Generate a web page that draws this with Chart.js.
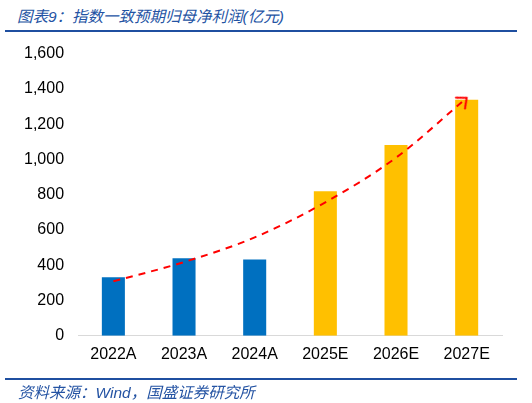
<!DOCTYPE html>
<html lang="zh">
<head>
  <meta charset="UTF-8">
  <title>图表9 指数一致预期归母净利润</title>
  <script src="https://cdn.jsdelivr.net/npm/chart.js"></script>
  <style>
    html, body {
      margin: 0;
      padding: 0;
      background: #ffffff;
      width: 532px;
      height: 403px;
      overflow: hidden;
      font-family: "Liberation Sans", Arial, "Noto Sans CJK SC", sans-serif;
    }
    .title {
      position: absolute;
      left: 17px;
      top: 4px;
      font-size: 15.5px;
      font-style: italic;
      color: #2453a3;
      font-family: "Liberation Sans", "Noto Sans CJK SC", sans-serif;
      white-space: nowrap;
    }
    .rule {
      position: absolute;
      left: 5px;
      width: 512px;
      height: 2px;
      background: #1f4fa0;
    }
    .source {
      position: absolute;
      left: 18px;
      top: 380px;
      font-size: 15.5px;
      font-style: italic;
      color: #2453a3;
      font-family: "Liberation Sans", "Noto Sans CJK SC", sans-serif;
      white-space: nowrap;
    }
    .chart-box {
      position: absolute;
      left: 0;
      top: 30px;
      width: 532px;
      height: 350px;
    }
  </style>
</head>
<body>
  <div class="title">图表9：指数一致预期归母净利润(亿元)</div>
  <div class="rule" style="top:30px;"></div>
  <div class="chart-box"><canvas id="chart"></canvas></div>
  <div class="rule" style="top:378px;"></div>
  <div class="source">资料来源：Wind，国盛证券研究所</div>

  <script>
    // data
    const years = ['2022A', '2023A', '2024A', '2025E', '2026E', '2027E'];
    const profit = [332, 439, 433, 820, 1082, 1339];
    const trend = [309, 418, 558, 757, 1010, 1349];
    const barColors = ['#0070c0', '#0070c0', '#0070c0', '#ffc000', '#ffc000', '#ffc000'];

    // open arrow head, tip at the centre, pointing right
    function makeArrow() {
      const c = document.createElement('canvas');
      c.width = 24;
      c.height = 24;
      const g = c.getContext('2d');
      g.strokeStyle = '#ff0000';
      g.lineWidth = 2;
      g.lineCap = 'round';
      g.beginPath();
      g.moveTo(4, 5);
      g.lineTo(12, 12);
      g.lineTo(4, 19);
      g.stroke();
      return c;
    }
    const arrow = makeArrow();

    const font = { family: '"Liberation Sans", Arial, sans-serif', size: 16 };

    new Chart(document.getElementById('chart'), {
      data: {
        labels: years,
        datasets: [
          {
            type: 'line',
            data: trend,
            borderColor: '#ff0000',
            borderWidth: 2,
            borderDash: [7, 6],
            tension: 0.4,
            cubicInterpolationMode: 'monotone',
            fill: false,
            pointRadius: trend.map((v, i) => i === trend.length - 1 ? 6 : 0),
            pointStyle: arrow,
            pointRotation: -40,
            order: 0
          },
          {
            type: 'bar',
            data: profit,
            backgroundColor: barColors,
            categoryPercentage: 1,
            barPercentage: 0.326,
            order: 1
          }
        ]
      },
      options: {
        responsive: true,
        maintainAspectRatio: false,
        animation: false,
        layout: { padding: { left: 10, right: 30, top: 5, bottom: 7 } },
        plugins: {
          legend: { display: false },
          tooltip: { enabled: false }
        },
        scales: {
          x: {
            grid: { display: false, drawTicks: false },
            border: { display: true, color: '#d9d9d9', width: 1 },
            ticks: { color: '#000000', font: font, padding: 9 }
          },
          y: {
            min: 0,
            max: 1600,
            grid: { display: false, drawTicks: false },
            border: { display: false },
            ticks: {
              stepSize: 200,
              color: '#000000',
              font: font,
              padding: 14,
              callback: v => v.toLocaleString('en-US')
            }
          }
        }
      }
    });
  </script>
</body>
</html>
